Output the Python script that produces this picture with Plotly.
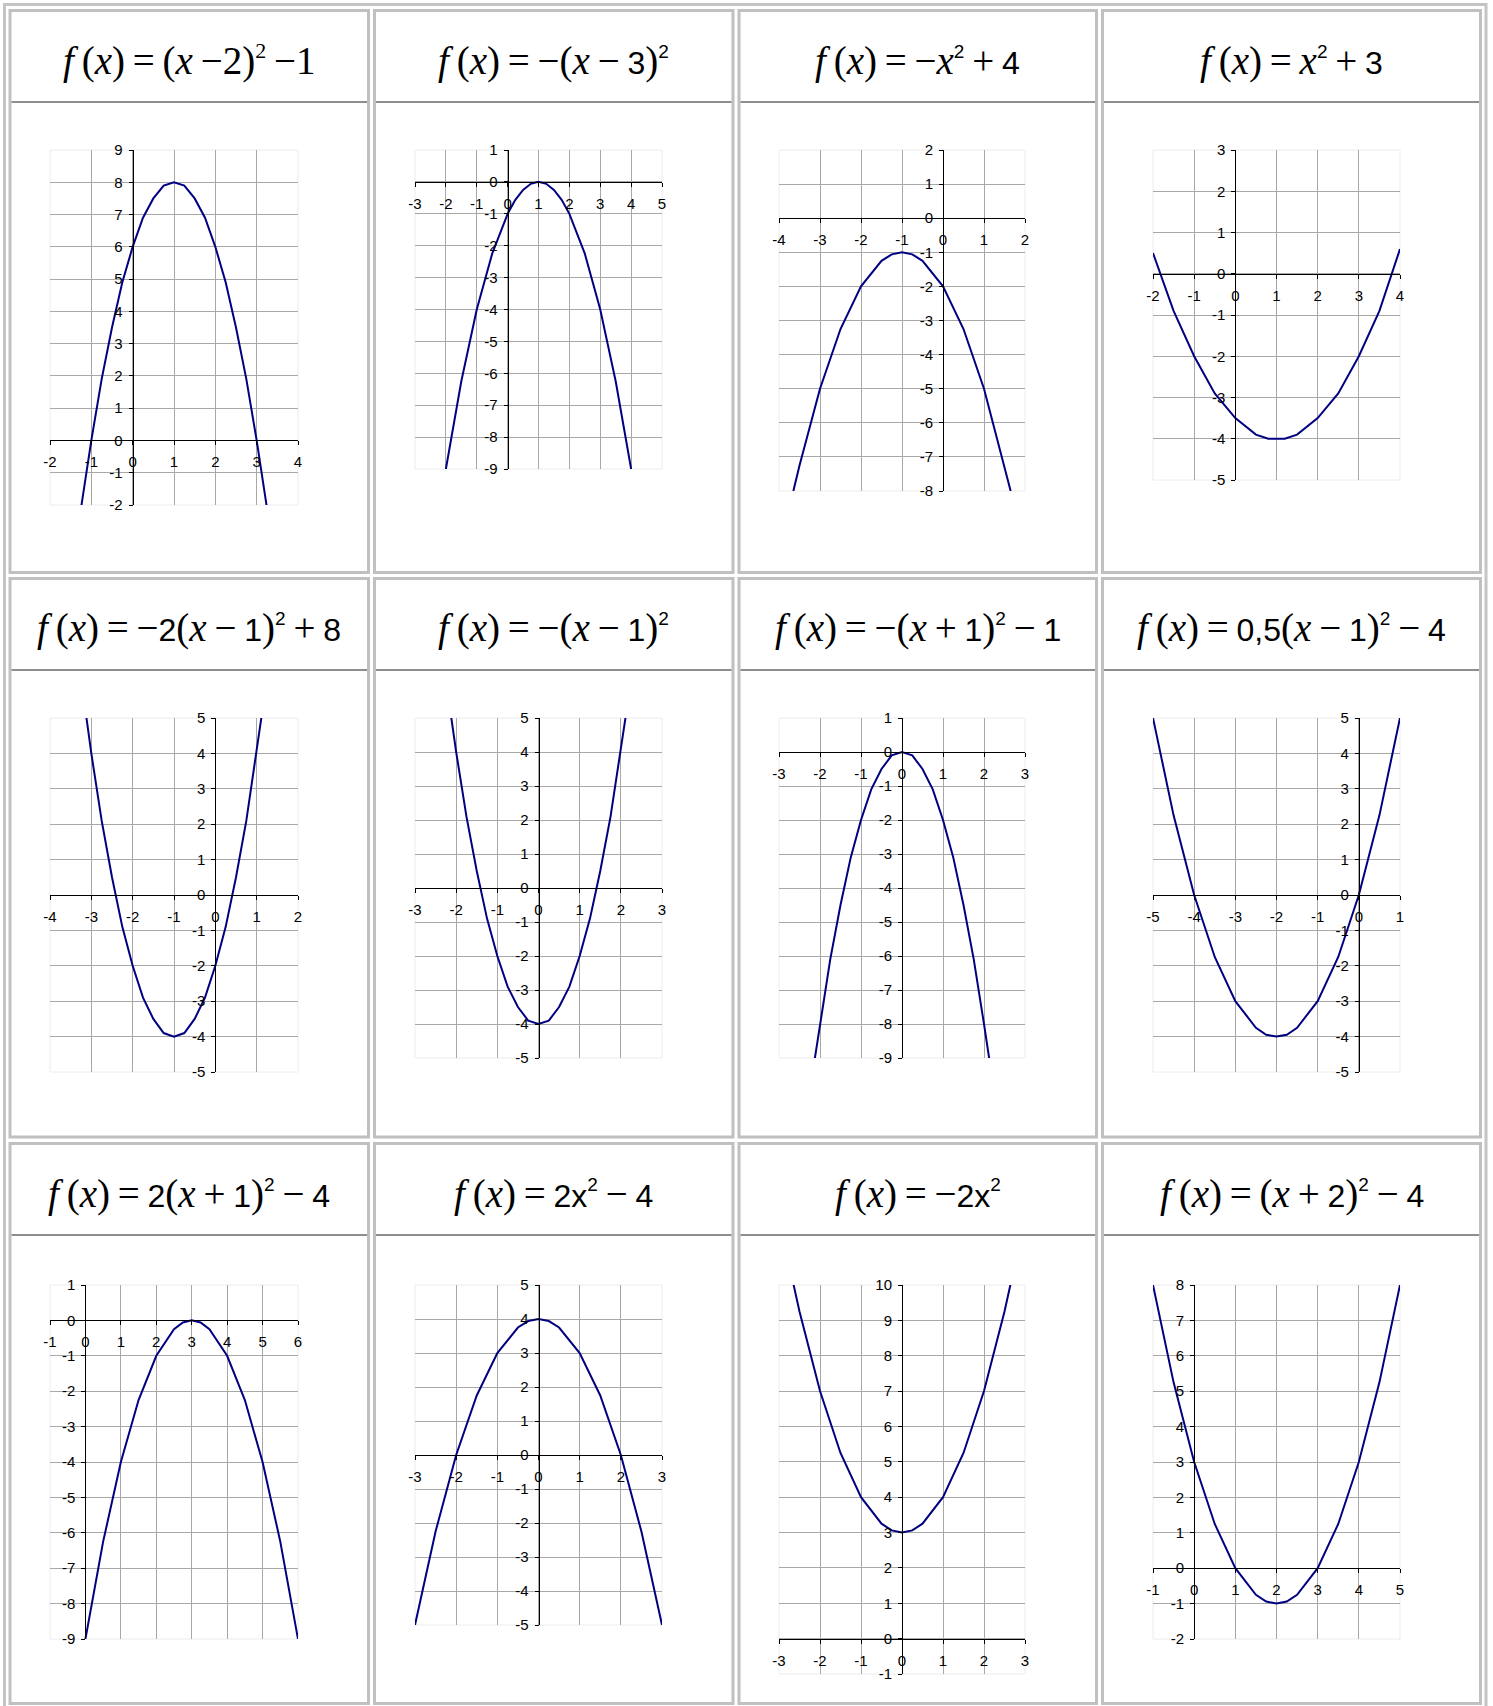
import plotly.graph_objects as go

W, H = 1493, 1706
T = "\u2009"  # thin space


def s(t):
    # digits in these formulas are set in a sans font
    return f'<span style="font-family:Liberation Sans,Arial;font-size:32px">{t}</span>'


def sq(sans=True):
    if sans:
        return '<sup><span style="font-family:Liberation Sans,Arial;font-size:19px">2</span></sup>'
    return '<sup><span style="font-size:22px">2</span></sup>'


F = f"<i>f</i>{T}(<i>x</i>){T}={T}"

titles = [
    f"{F}(<i>x</i>{T}−2){sq(False)}{T}−1",
    f"{F}−(<i>x</i>{T}−{T}{s('3')}){sq()}",
    f"{F}−<i>x</i>{sq()}{T}+{T}{s('4')}",
    f"{F}<i>x</i>{sq()}{T}+{T}{s('3')}",
    f"{F}−{s('2')}(<i>x</i>{T}−{T}{s('1')}){sq()}{T}+{T}{s('8')}",
    f"{F}−(<i>x</i>{T}−{T}{s('1')}){sq()}",
    f"{F}−(<i>x</i>{T}+{T}{s('1')}){sq()}{T}−{T}{s('1')}",
    f"{F}{s('0,5')}(<i>x</i>{T}−{T}{s('1')}){sq()}{T}−{T}{s('4')}",
    f"{F}{s('2')}(<i>x</i>{T}+{T}{s('1')}){sq()}{T}−{T}{s('4')}",
    f"{F}{s('2x')}{sq()}{T}−{T}{s('4')}",
    f"{F}−{s('2x')}{sq()}",
    f"{F}(<i>x</i>{T}+{T}{s('2')}){sq()}{T}−{T}{s('4')}",
]

x_ranges = [(-2, 4), (-3, 5), (-4, 2), (-2, 4), (-4, 2), (-3, 3),
            (-3, 3), (-5, 1), (-1, 6), (-3, 3), (-3, 3), (-1, 5)]
y_ranges = [(-2, 9), (-9, 1), (-8, 2), (-5, 3), (-5, 5), (-5, 5),
            (-9, 1), (-5, 5), (-9, 1), (-5, 5), (-1, 10), (-2, 8)]

# curve points
x1 = [-1.25, -1, -0.75, -0.5, -0.25, 0, 0.25, 0.5, 0.75, 1, 1.25, 1.5, 1.75, 2, 2.25, 2.5, 2.75, 3, 3.25]
y1 = [-2.1, 0, 1.9, 3.5, 4.9, 6, 6.9, 7.5, 7.9, 8, 7.9, 7.5, 6.9, 6, 4.9, 3.5, 1.9, 0, -2.1]

x2 = [-2, -1.5, -1, -0.5, 0, 0.25, 0.5, 0.75, 1, 1.25, 1.5, 1.75, 2, 2.5, 3, 3.5, 4]
y2 = [-9, -6.25, -4, -2.25, -1, -0.56, -0.25, -0.06, 0, -0.06, -0.25, -0.56, -1, -2.25, -4, -6.25, -9]

x3 = [-3.65, -3.5, -3, -2.5, -2, -1.5, -1.25, -1, -0.75, -0.5, 0, 0.5, 1, 1.5, 1.65]
y3 = [-8.0, -7.25, -5, -3.25, -2, -1.25, -1.06, -1, -1.06, -1.25, -2, -3.25, -5, -7.25, -8.0]

x4 = [-2, -1.5, -1, -0.5, 0, 0.5, 0.8, 1.2, 1.5, 2, 2.5, 3, 3.5, 4]
y4 = [0.5, -0.9, -2, -2.9, -3.5, -3.9, -4.0, -4.0, -3.9, -3.5, -2.9, -2, -0.9, 0.6]

x5 = [-3.2, -3, -2.75, -2.5, -2.25, -2, -1.75, -1.5, -1.25, -1, -0.75, -0.5, -0.25, 0, 0.25, 0.5, 0.75, 1, 1.2]
y5 = [5.7, 4, 2.1, 0.5, -0.9, -2, -2.9, -3.5, -3.9, -4, -3.9, -3.5, -2.9, -2, -0.9, 0.5, 2.1, 4, 5.7]

x6 = [-2.2, -2, -1.75, -1.5, -1.25, -1, -0.75, -0.5, -0.25, 0, 0.25, 0.5, 0.75, 1, 1.25, 1.5, 1.75, 2, 2.2]
y6 = [5.7, 4, 2.1, 0.5, -0.9, -2, -2.9, -3.5, -3.9, -4, -3.9, -3.5, -2.9, -2, -0.9, 0.5, 2.1, 4, 5.7]

x7 = [-2.15, -2, -1.75, -1.5, -1.25, -1, -0.75, -0.5, -0.25, 0, 0.25, 0.5, 0.75, 1, 1.25, 1.5, 1.75, 2, 2.15]
y7 = [-9.2, -8, -6.1, -4.5, -3.1, -2, -1.1, -0.5, -0.1, 0, -0.1, -0.5, -1.1, -2, -3.1, -4.5, -6.1, -8, -9.2]

x8 = [-5, -4.5, -4, -3.5, -3, -2.5, -2.25, -2, -1.75, -1.5, -1, -0.5, 0, 0.5, 1]
y8 = [5, 2.25, 0, -1.75, -3, -3.75, -3.95, -4, -3.95, -3.75, -3, -1.75, 0, 2.25, 5]

x9 = [0, 0.5, 1, 1.5, 2, 2.5, 2.75, 3, 3.25, 3.5, 4, 4.5, 5, 5.5, 6]
y9 = [-9, -6.25, -4, -2.25, -1, -0.25, -0.06, 0, -0.06, -0.25, -1, -2.25, -4, -6.25, -9]

x10 = [-3, -2.5, -2, -1.5, -1, -0.5, -0.25, 0, 0.25, 0.5, 1, 1.5, 2, 2.5, 3]
y10 = [-5, -2.25, 0, 1.75, 3, 3.75, 3.94, 4, 3.94, 3.75, 3, 1.75, 0, -2.25, -5]

x11 = [-2.7, -2.5, -2, -1.5, -1, -0.5, -0.25, 0, 0.25, 0.5, 1, 1.5, 2, 2.5, 2.7]
y11 = [10.3, 9.25, 7, 5.25, 4, 3.25, 3.06, 3, 3.06, 3.25, 4, 5.25, 7, 9.25, 10.3]

x12 = [-1, -0.5, 0, 0.5, 1, 1.5, 1.75, 2, 2.25, 2.5, 3, 3.5, 4, 4.5, 5]
y12 = [8, 5.25, 3, 1.25, 0, -0.75, -0.94, -1, -0.94, -0.75, 0, 1.25, 3, 5.25, 8]

curves = [(x1, y1), (x2, y2), (x3, y3), (x4, y4), (x5, y5), (x6, y6),
          (x7, y7), (x8, y8), (x9, y9), (x10, y10), (x11, y11), (x12, y12)]

# page layout in pixels
col_plot = [(50, 298), (415, 662), (779, 1025), (1153, 1400)]
row_top = [150, 718, 1285]
plot_bottom = [505, 469, 491, 480, 1072, 1058, 1058, 1072, 1639, 1625, 1674, 1639]
cell_cols = [(10, 368.5), (374.5, 733), (739, 1096.5), (1102.5, 1480.5)]
cell_rows = [(10.5, 572.5), (578.5, 1137), (1143.5, 1703.5)]


def px(v):
    return v / W


def py(v):
    return 1 - v / H


fig = go.Figure()
shapes = []
annotations = []

# table frame
shapes.append(dict(type="rect", xref="paper", yref="paper", x0=px(4.5), x1=px(1486), y0=py(4.5), y1=py(1720),
                   line=dict(color="#c4c4c4", width=3)))
for r, (t, b) in enumerate(cell_rows):
    for c, (l, rr) in enumerate(cell_cols):
        shapes.append(dict(type="rect", xref="paper", yref="paper", x0=px(l), x1=px(rr), y0=py(t), y1=py(b),
                           line=dict(color="#c0c0c0", width=3)))
        sep = t + 91.5
        shapes.append(dict(type="line", xref="paper", yref="paper", x0=px(l + 1.5), x1=px(rr - 1.5),
                           y0=py(sep), y1=py(sep), line=dict(color="#8e8e8e", width=2)))
        annotations.append(dict(xref="paper", yref="paper", x=px((l + rr) / 2), y=py(t + 50),
                                text=titles[r * 4 + c], showarrow=False, xanchor="center", yanchor="middle",
                                font=dict(family="Liberation Serif", size=39, color="black")))

for i in range(12):
    r, c = divmod(i, 4)
    n = "" if i == 0 else str(i + 1)
    xr, yr = x_ranges[i], y_ranges[i]
    xd = [px(col_plot[c][0]), px(col_plot[c][1])]
    yd = [py(plot_bottom[i]), py(row_top[r])]
    xpos = yd[0] + (0 - yr[0]) / (yr[1] - yr[0]) * (yd[1] - yd[0])
    ypos = xd[0] + (0 - xr[0]) / (xr[1] - xr[0]) * (xd[1] - xd[0])
    xs, ys = curves[i]
    fig.add_trace(go.Scatter(x=xs, y=ys, mode="lines", line=dict(color="#000080", width=2),
                             xaxis="x" + n, yaxis="y" + n, showlegend=False, hoverinfo="skip"))
    common = dict(ticks="outside", ticklen=4, tickcolor="black", automargin=False,
                  showline=True, linecolor="black", linewidth=1, showgrid=True, gridcolor="#a8a8a8",
                  gridwidth=1, zeroline=False, fixedrange=True,
                  tickfont=dict(family="Liberation Sans, Arial", size=15, color="black"))
    xt = list(range(xr[0], xr[1] + 1))
    yt = list(range(yr[0], yr[1] + 1))
    fig.update_layout(**{
        "xaxis" + n: dict(domain=xd, range=list(xr), anchor="free", position=xpos, ticklabelstandoff=4,
                          tickmode="array", tickvals=xt, ticktext=[str(v) for v in xt], **common),
        "yaxis" + n: dict(domain=yd, range=list(yr), anchor="free", position=ypos, ticklabelstandoff=3,
                          tickmode="array", tickvals=yt, ticktext=[str(v) for v in yt], **common),
    })
    shapes.append(dict(type="rect", xref=f"x{n} domain", yref=f"y{n} domain", x0=0, x1=1, y0=0, y1=1,
                       line=dict(color="#ececec", width=1), layer="below"))

fig.update_layout(width=W, height=H, margin=dict(l=0, r=0, t=0, b=0, pad=0, autoexpand=False),
                  paper_bgcolor="white", plot_bgcolor="white",
                  shapes=shapes, annotations=annotations)

page_fix = (
    "document.documentElement.style.margin='0';document.documentElement.style.padding='0';"
    "document.documentElement.style.overflow='hidden';"
    "document.body.style.margin='0';document.body.style.padding='0';document.body.style.overflow='hidden';"
    "var gd=document.getElementById('{plot_id}');gd.style.position='absolute';gd.style.left='0px';gd.style.top='0px';"
)
fig.write_html("out.html", config={"displayModeBar": False}, post_script=page_fix)
